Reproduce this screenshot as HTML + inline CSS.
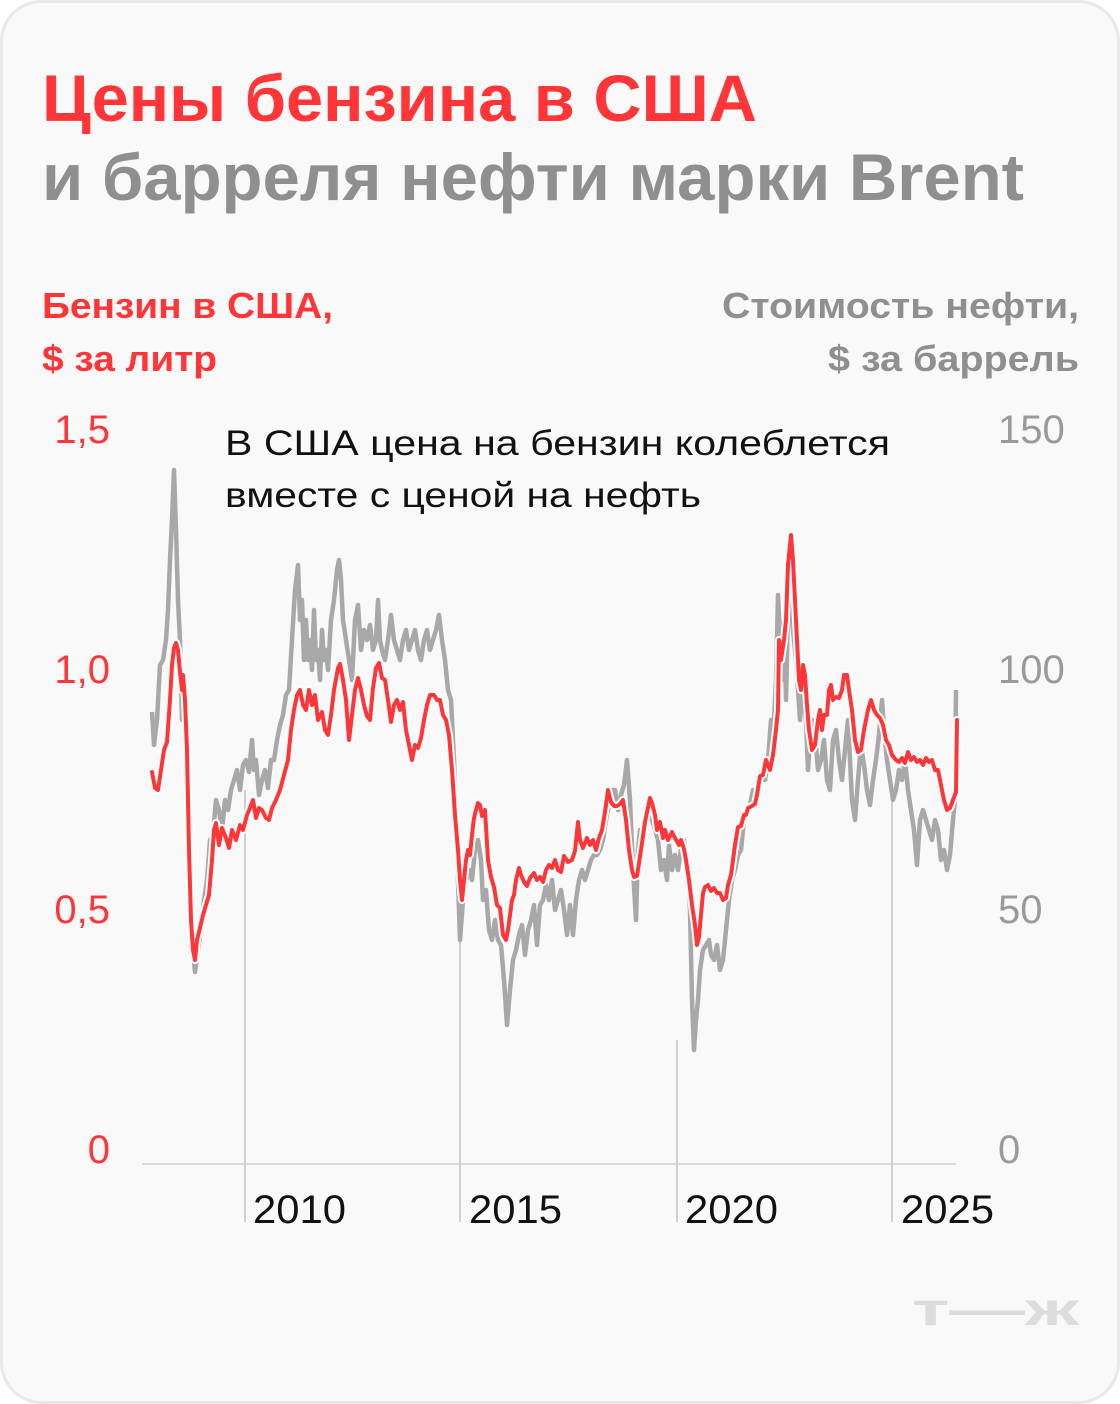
<!DOCTYPE html>
<html><head><meta charset="utf-8"><style>
html,body{margin:0;padding:0;background:#fff;}
svg{display:block;}
</style></head><body>
<svg width="1120" height="1404" viewBox="0 0 1120 1404" xmlns="http://www.w3.org/2000/svg">
<defs>
<polyline id="r" points="152,772 155,788 158,790 161,770 164,750 167,742 170,700 172,665 174,648 176,643 178,650 180,672 182,690 183,675 185,700 187,750 189,850 191,920 193,950 195,960 197,940 200,928 203,915 206,905 209,895 212,860 214,830 216,823 219,845 222,828 226,838 229,848 232,830 236,840 240,825 243,830 247,815 250,808 253,800 256,818 259,808 262,810 266,818 269,820 272,808 276,800 280,790 284,775 288,760 291,730 294,710 297,695 300,690 303,705 306,710 309,690 312,705 315,695 318,720 322,712 325,730 328,735 331,715 334,690 338,668 340,664 343,680 346,700 349,740 352,715 355,690 358,678 361,690 364,705 367,716 370,720 373,688 376,668 379,663 382,678 385,680 388,700 391,722 394,705 397,700 400,710 403,702 406,730 409,745 412,760 415,745 418,748 421,738 424,720 427,705 430,695 434,695 437,700 440,700 443,715 446,720 449,735 452,770 455,815 458,850 460,880 462,900 464,880 466,860 468,850 470,855 472,835 474,818 476,810 478,803 480,805 482,816 485,810 488,860 491,877 494,887 497,905 500,908 503,935 506,940 508,930 510,915 512,900 514,895 516,880 519,868 521,875 524,882 527,886 530,878 534,873 537,880 540,877 543,882 546,870 549,865 552,868 555,860 558,870 561,872 564,856 568,862 572,860 575,851 578,822 580,840 583,848 587,838 590,845 593,840 596,850 599,838 602,830 605,812 608,790 611,802 614,806 617,806 620,804 623,800 626,820 629,850 632,870 634,877 637,876 641,850 645,822 650,798 652,803 655,815 657,830 660,822 663,838 665,830 668,840 672,832 675,838 679,845 681,840 684,849 686,860 689,880 692,905 695,925 697,945 699,937 701,915 703,893 705,887 708,885 711,891 714,888 717,893 720,893 723,900 726,898 728,885 731,875 735,845 738,827 741,826 744,815 746,815 748,808 752,806 755,804 757,795 760,776 763,775 766,760 768,765 770,770 773,755 776,730 778,710 779,640 781,660 784,640 786,620 788,565 790,545 791,535 793,560 795,600 797,640 799,680 801,690 803,665 805,675 807,705 809,730 812,750 815,745 818,720 820,710 822,730 824,715 827,715 829,690 831,685 833,700 836,697 839,698 842,690 844,675 847,675 849,690 852,710 855,740 858,752 861,750 864,730 868,710 871,700 874,710 877,715 880,718 883,725 886,740 889,745 892,755 896,760 899,762 902,758 905,763 908,752 911,760 914,757 917,762 920,760 923,765 926,758 929,762 932,760 935,770 938,770 941,785 944,800 947,810 950,808 953,800 956,792 957,720"/>
</defs>
<rect x="1.5" y="1.5" width="1117" height="1401" rx="40" fill="#f9f9f9" stroke="#e8e8e8" stroke-width="3"/>
<g font-family="Liberation Sans, sans-serif" font-weight="bold">
<text x="42" y="121" font-size="66" fill="#ff3538" textLength="715" lengthAdjust="spacingAndGlyphs">Цены бензина в США</text>
<text x="42" y="200" font-size="66" fill="#8f8f8f" textLength="982" lengthAdjust="spacingAndGlyphs">и барреля нефти марки Brent</text>
<text x="42" y="318" font-size="36" fill="#ff3538" textLength="291" lengthAdjust="spacingAndGlyphs">Бензин в США,</text>
<text x="42" y="371" font-size="36" fill="#ff3538" textLength="175" lengthAdjust="spacingAndGlyphs">$ за литр</text>
<text x="722" y="318" font-size="36" fill="#8f8f8f" textLength="357" lengthAdjust="spacingAndGlyphs">Стоимость нефти,</text>
<text x="828" y="371" font-size="36" fill="#8f8f8f" textLength="251" lengthAdjust="spacingAndGlyphs">$ за баррель</text>
<text x="912" y="1325" font-size="46" fill="#dcdcdc" textLength="167" lengthAdjust="spacingAndGlyphs">т—ж</text>
</g>
<g font-family="Liberation Sans, sans-serif" font-size="40">
<g fill="#ff3538" text-anchor="end">
<text x="110" y="443">1,5</text><text x="110" y="683">1,0</text><text x="110" y="923">0,5</text><text x="110" y="1163">0</text>
</g>
<g fill="#9a9a9a">
<text x="998" y="443">150</text><text x="998" y="683">100</text><text x="998" y="923">50</text><text x="998" y="1163">0</text>
</g>
<g fill="#111">
<text x="253" y="1223" textLength="93" lengthAdjust="spacingAndGlyphs">2010</text><text x="469" y="1223" textLength="93" lengthAdjust="spacingAndGlyphs">2015</text><text x="685" y="1223" textLength="93" lengthAdjust="spacingAndGlyphs">2020</text><text x="901" y="1223" textLength="93" lengthAdjust="spacingAndGlyphs">2025</text>
</g>
<text x="225" y="455" font-size="35" fill="#111" textLength="665" lengthAdjust="spacingAndGlyphs">В США цена на бензин колеблется</text>
<text x="225" y="507" font-size="35" fill="#111" textLength="476" lengthAdjust="spacingAndGlyphs">вместе с ценой на нефть</text>
</g>
<line x1="142" y1="1164" x2="956" y2="1164" stroke="#dadada" stroke-width="2"/>
<g stroke="#d0d0d0" stroke-width="2">
<line x1="245" y1="790" x2="245" y2="1222"/><line x1="460" y1="900" x2="460" y2="1222"/>
<line x1="677" y1="1040" x2="677" y2="1222"/><line x1="892" y1="800" x2="892" y2="1222"/>
</g>
<polyline fill="none" stroke="#a8a8a8" stroke-width="4.5" stroke-linejoin="round" points="152,712 154,745 157,720 160,665 163,660 166,640 168,610 170,560 172,520 174,470 176,530 178,600 180,640 182,720 184,690 186,760 189,860 192,940 195,972 198,950 201,930 204,900 207,880 210,840 213,835 216,800 219,810 222,830 225,800 228,810 231,790 234,780 237,770 240,790 243,765 246,760 249,772 252,740 254,770 256,760 259,795 262,780 265,770 268,788 271,760 274,760 277,740 280,725 283,715 286,695 289,690 292,640 295,590 298,565 300,620 302,600 304,660 306,620 308,660 310,640 312,670 314,610 316,660 318,650 320,680 322,630 324,660 326,650 328,670 331,620 334,600 337,570 339,560 341,580 343,620 346,640 349,660 352,680 355,620 358,605 361,650 364,630 367,640 370,625 373,650 376,640 378,600 380,640 382,650 385,660 388,640 391,615 394,640 397,650 400,660 403,640 406,630 409,650 412,640 415,630 418,650 421,660 424,640 427,630 430,650 433,640 436,630 439,615 442,640 445,660 448,690 451,700 454,760 457,850 460,940 463,900 466,880 469,870 472,880 475,850 478,840 481,860 483,900 486,890 489,930 492,940 495,920 498,940 501,945 504,980 507,1025 510,990 513,960 516,950 519,935 522,925 525,955 528,930 531,920 534,905 537,945 540,905 543,900 546,885 549,900 552,880 555,910 558,900 561,890 564,910 567,935 570,905 573,935 576,900 579,880 582,870 585,880 588,870 591,860 594,855 597,855 600,850 603,840 606,820 609,805 612,790 615,790 618,810 621,795 624,785 627,760 630,800 633,870 636,920 638,850 640,830 643,840 646,820 649,815 652,820 655,830 658,840 661,870 664,860 667,880 669,845 672,870 675,855 678,870 681,850 684,840 687,860 690,910 692,1000 694,1050 696,1020 698,1000 700,970 703,950 706,945 709,940 711,955 714,960 717,945 720,970 723,960 726,930 729,900 732,880 735,870 738,855 741,850 744,820 747,810 750,805 753,790 756,790 759,780 762,770 765,780 768,760 771,720 773,740 776,680 778,595 780,640 782,680 784,620 786,700 788,610 790,580 792,620 794,640 796,660 798,690 800,720 802,690 804,705 806,720 808,770 810,740 812,720 815,735 818,770 821,760 824,740 827,780 830,790 833,740 836,730 839,760 842,780 845,750 848,720 850,760 852,800 855,820 858,780 861,745 864,765 867,790 870,805 873,780 876,760 879,735 882,700 884,730 887,760 890,780 893,800 896,790 899,770 902,780 905,760 908,790 911,810 914,830 917,865 920,820 923,810 926,820 929,830 932,840 935,820 938,830 941,860 944,850 947,870 950,855 953,820 955,800 956,690"/>
<g fill="none" stroke-linejoin="round" stroke-linecap="round">
<use href="#r" stroke="#ffffff" stroke-width="8"/>
<use href="#r" stroke="#ff3538" stroke-width="4"/>
</g>
</svg>
</body></html>
